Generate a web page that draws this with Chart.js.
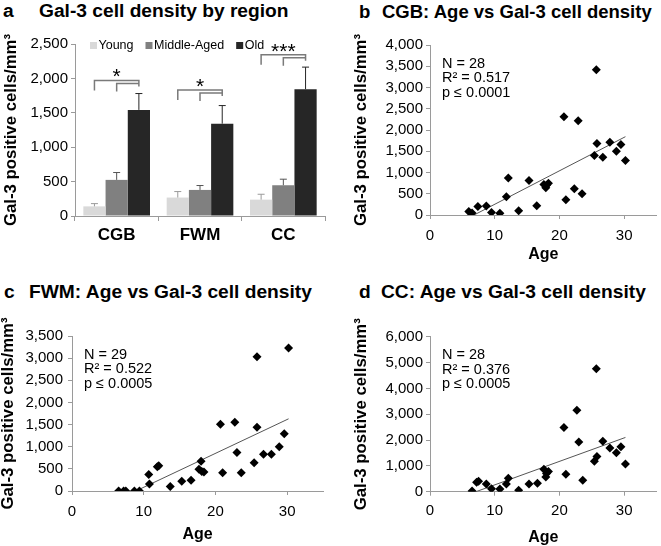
<!DOCTYPE html>
<html>
<head>
<meta charset="utf-8">
<script src="https://cdn.jsdelivr.net/npm/chart.js@4.4.0/dist/chart.umd.min.js"></script>
<style>
  body { margin: 0; background: #fff; width: 661px; height: 546px; position: relative; overflow: hidden;
         font-family: 'Liberation Sans', Arial, sans-serif; }
  canvas { position: absolute; }
  .ttl { position: absolute; font-weight: bold; font-size: 19.2px; line-height: 1; white-space: nowrap; color: #000; }
</style>
</head>
<body>
<div class="ttl" style="left:3px;top:0.5px">a</div>
<div class="ttl" style="left:39px;top:0.5px">Gal-3 cell density by region</div>
<div class="ttl" style="left:359px;top:2.6px;font-size:18.5px">b</div>
<div class="ttl" style="left:382px;top:2.6px;font-size:18.5px">CGB: Age vs Gal-3 cell density</div>
<div class="ttl" style="left:4px;top:282px">c</div>
<div class="ttl" style="left:29px;top:282px">FWM: Age vs Gal-3 cell density</div>
<div class="ttl" style="left:359px;top:282px">d</div>
<div class="ttl" style="left:381px;top:282px">CC: Age vs Gal-3 cell density</div>

<canvas id="chartA" width="330" height="250" style="left:0;top:25px"></canvas>
<canvas id="chartB" width="331" height="245" style="left:330px;top:25px"></canvas>
<canvas id="chartC" width="330" height="241" style="left:0;top:305px"></canvas>
<canvas id="chartD" width="331" height="241" style="left:330px;top:305px"></canvas>

<script>
// Panel a: mean density by region and age group (upper error = SE)
const regions = ['CGB', 'FWM', 'CC'];
const groups = ['Young', 'Middle-Aged', 'Old'];
const youngMean = [140, 268, 238];
const youngErr = [40, 87, 78];
const middleMean = [525, 379, 447];
const middleErr = [107, 64, 88];
const oldMean = [1542, 1342, 1843];
const oldErr = [238, 263, 321];
const sigLevel = [1970, 1830, 2345];
const sigLabel = ['*', '*', '***'];

// Panel b: CGB
const cgbAge = [6.0, 6.5, 7.4, 8.7, 9.5, 10.8, 11.8, 12.1, 13.7, 15.3, 16.5, 17.6, 17.9, 18.0,
  18.3, 20.7, 21.0, 22.3, 22.9, 23.5, 25.4, 25.7, 25.8, 26.7, 27.8, 28.8, 29.5, 30.2];
const cgbDensity = [80, 50, 200, 210, 60, 40, 430, 870, 100, 810, 220, 720, 640, 700,
  750, 2310, 360, 620, 2220, 500, 1400, 3420, 1680, 1360, 1710, 1500, 1660, 1280];
const cgbTrendAge = [6.8, 30.2];
const cgbTrendDensity = [0, 1843];
const cgbStats = ['N = 28', 'R² = 0.517', 'p ≤ 0.0001'];

// Panel c: FWM
const fwmAge = [6.5, 7.2, 7.5, 8.7, 9.4, 10.7, 10.8, 11.9, 12.1, 13.7, 15.3, 16.6, 17.7, 18.0,
  18.1, 18.4, 20.7, 21.0, 22.7, 23.0, 23.6, 25.4, 25.8, 25.8, 26.7, 27.8, 28.9, 29.6, 30.2];
const fwmDensity = [0, 0, 0, 0, 0, 370, 160, 550, 570, 100, 220, 240, 490, 670,
  440, 430, 1510, 410, 1550, 870, 410, 640, 3030, 1440, 830, 830, 1000, 1290, 3230];
const fwmTrendAge = [8.9, 30.2];
const fwmTrendDensity = [0, 1630];
const fwmStats = ['N = 29', 'R² = 0.522', 'p ≤ 0.0005'];

// Panel d: CC
const ccAge = [6.5, 7.2, 7.5, 8.7, 9.5, 10.8, 11.8, 12.1, 13.7, 15.3, 16.6, 17.6, 17.9, 18.0,
  18.3, 20.7, 21.0, 22.7, 23.0, 23.6, 25.4, 25.7, 25.8, 26.7, 27.8, 28.8, 29.5, 30.2];
const ccDensity = [30, 370, 400, 300, 110, 100, 300, 520, 60, 300, 330, 870, 570, 700,
  780, 2490, 680, 3150, 1920, 440, 1180, 4760, 1360, 1950, 1690, 1510, 1740, 1070];
const ccTrendAge = [7.1, 30.2];
const ccTrendDensity = [0, 2100];
const ccStats = ['N = 28', 'R² = 0.376', 'p ≤ 0.0005'];

const FONT = "'Liberation Sans', Arial, sans-serif";
Chart.defaults.font.family = FONT;
Chart.defaults.color = '#000';
const AXIS = '#9a9a9a';
const yTitle = 'Gal-3 positive cells/mm³';

// Bar chart extras: error bars, legend, significance brackets
const barColors = ['#d9d9d9', '#808080', '#262626'];
const errColors = ['#9a9a9a', '#555555', '#262626'];
const errSets = [youngErr, middleErr, oldErr];

const barExtras = {
  id: 'barExtras',
  afterDatasetsDraw(chart) {
    const { ctx, chartArea, scales: { y } } = chart;
    ctx.save();
    // error bars (upper only)
    ctx.lineWidth = 1;
    chart.data.datasets.forEach((ds, i) => {
      ctx.strokeStyle = errColors[i];
      chart.getDatasetMeta(i).data.forEach((bar, j) => {
        const top = y.getPixelForValue(ds.data[j] + errSets[i][j]);
        ctx.beginPath();
        ctx.moveTo(bar.x, bar.y);
        ctx.lineTo(bar.x, top);
        ctx.moveTo(bar.x - 3.5, top);
        ctx.lineTo(bar.x + 3.5, top);
        ctx.stroke();
      });
    });
    // legend
    ctx.font = '12.5px ' + FONT;
    ctx.textBaseline = 'middle';
    let lx = chartArea.left + 15;
    const ly = chartArea.top + 1.5;
    groups.forEach((g, i) => {
      ctx.fillStyle = barColors[i];
      ctx.fillRect(lx, ly - 3.5, 7, 7);
      ctx.fillStyle = '#000';
      ctx.fillText(g, lx + 8.5, ly);
      lx += 8.5 + ctx.measureText(g).width + 12;
    });
    // brackets
    ctx.strokeStyle = '#7a7a7a';
    ctx.lineWidth = 1.5;
    regions.forEach((r, j) => {
      const x0 = chart.getDatasetMeta(0).data[j].x;
      const x1 = chart.getDatasetMeta(1).data[j].x;
      const x2 = chart.getDatasetMeta(2).data[j].x;
      const yo = y.getPixelForValue(sigLevel[j]);
      const yi = yo + 3;
      ctx.beginPath();
      ctx.moveTo(x0, yo + 10); ctx.lineTo(x0, yo); ctx.lineTo(x2, yo); ctx.lineTo(x2, yo + 6);
      ctx.moveTo(x1, yi + 8); ctx.lineTo(x1, yi); ctx.lineTo(x2, yi);
      ctx.stroke();
      ctx.fillStyle = '#000';
      ctx.font = '21px ' + FONT;
      ctx.textAlign = 'center';
      ctx.textBaseline = 'alphabetic';
      ctx.fillText(sigLabel[j], x1, yo + 3);
      ctx.textAlign = 'left';
    });
    ctx.restore();
  }
};

new Chart(document.getElementById('chartA'), {
  type: 'bar',
  data: {
    labels: regions,
    datasets: [
      { label: groups[0], data: youngMean, backgroundColor: barColors[0] },
      { label: groups[1], data: middleMean, backgroundColor: barColors[1] },
      { label: groups[2], data: oldMean, backgroundColor: barColors[2] }
    ]
  },
  options: {
    responsive: false,
    animation: false,
    layout: { padding: { top: 19, right: 5, bottom: 0, left: 0 } },
    datasets: { bar: { categoryPercentage: 0.8, barPercentage: 1.0 } },
    plugins: { legend: { display: false }, tooltip: { enabled: false } },
    scales: {
      x: {
        grid: { offset: true, drawOnChartArea: false, tickLength: 5, color: AXIS },
        border: { color: AXIS },
        ticks: { font: { size: 17, weight: 'bold' }, padding: 4 },
        afterFit: s => { s.height = 59; }
      },
      y: {
        min: 0, max: 2500,
        ticks: { stepSize: 500, font: { size: 15 }, padding: 3 },
        grid: { drawOnChartArea: false, tickLength: 4, color: AXIS },
        border: { color: AXIS },
        title: { display: true, text: yTitle, font: { size: 16.8, weight: 'bold', lineHeight: 1 }, padding: { top: 3, bottom: 0 } },
        afterFit: s => { s.width = 75; }
      }
    }
  },
  plugins: [barExtras]
});

function scatterPanel(id, ages, density, trendAge, trendDensity, stats, cfg) {
  const statsText = {
    id: 'statsText',
    afterDatasetsDraw(chart) {
      const { ctx, chartArea } = chart;
      ctx.save();
      ctx.font = '14.5px ' + FONT;
      ctx.fillStyle = '#000';
      ctx.textBaseline = 'alphabetic';
      stats.forEach((t, i) => ctx.fillText(t, chartArea.left + 12, chartArea.top + 22.5 + i * 14.5));
      ctx.restore();
    }
  };
  new Chart(document.getElementById(id), {
    type: 'scatter',
    data: {
      datasets: [
        {
          data: ages.map((a, i) => ({ x: a, y: density[i] })),
          pointStyle: 'rectRot', pointRadius: 4.5, backgroundColor: '#000', borderWidth: 0, order: 1
        },
        {
          type: 'line',
          data: trendAge.map((a, i) => ({ x: a, y: trendDensity[i] })),
          borderColor: '#555', borderWidth: 1, pointRadius: 0, order: 2
        }
      ]
    },
    options: {
      responsive: false,
      animation: false,
      layout: { padding: { top: cfg.top, right: cfg.right, bottom: 0, left: 0 } },
      plugins: { legend: { display: false }, tooltip: { enabled: false } },
      scales: {
        x: {
          type: 'linear', min: 0, max: 35,
          ticks: { stepSize: 10, font: { size: 15 }, padding: cfg.xPad },
          afterBuildTicks: s => { s.ticks = s.ticks.filter(t => t.value % 10 === 0); },
          grid: { drawOnChartArea: false, tickLength: 4, color: AXIS },
          border: { color: AXIS },
          title: { display: true, text: 'Age', font: { size: 16, weight: 'bold', lineHeight: 1 }, padding: { top: 0, bottom: cfg.agePad } },
          afterFit: s => { s.height = cfg.xHeight; }
        },
        y: {
          min: 0, max: cfg.yMax,
          ticks: { stepSize: cfg.yStep, font: { size: 15 }, padding: cfg.yPad },
          grid: { drawOnChartArea: false, tickLength: 4, color: AXIS },
          border: { color: AXIS },
          title: { display: true, text: yTitle, font: { size: 16.8, weight: 'bold', lineHeight: 1 }, padding: { top: cfg.titlePad, bottom: 0 } },
          afterFit: s => { s.width = cfg.yWidth; }
        }
      }
    },
    plugins: [statsText]
  });
}

scatterPanel('chartB', cgbAge, cgbDensity, cgbTrendAge, cgbTrendDensity, cgbStats,
  { top: 20, right: 1, yWidth: 100, xHeight: 55, yMax: 4000, yStep: 500, xPad: 8, yPad: 3, titlePad: 22.5, agePad: 7 });
scatterPanel('chartC', fwmAge, fwmDensity, fwmTrendAge, fwmTrendDensity, fwmStats,
  { top: 31, right: 7, yWidth: 72, xHeight: 55, yMax: 3500, yStep: 500, xPad: 7.5, yPad: 5, titlePad: 0, agePad: 3.5 });
scatterPanel('chartD', ccAge, ccDensity, ccTrendAge, ccTrendDensity, ccStats,
  { top: 31.7, right: 1, yWidth: 100, xHeight: 54.3, yMax: 6000, yStep: 1000, xPad: 6.5, yPad: 3, titlePad: 22.5, agePad: 0.5 });
</script>
</body>
</html>
